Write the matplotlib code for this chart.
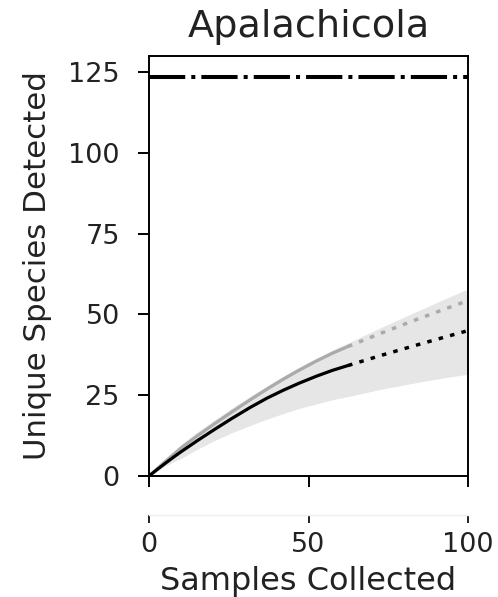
import matplotlib
matplotlib.use("Agg")
import matplotlib.pyplot as plt

# ---- data ----
title = "Apalachicola"
xlabel = "Samples Collected"
ylabel = "Unique Species Detected"
asymptote = 123.4

x_obs = [0, 2.5, 5, 7.5, 10.2, 15.4, 20.6, 25.8, 31.6, 37, 42, 47, 52.5, 57.5, 62.4]
black_obs = [0, 1.95, 3.85, 5.7, 7.6, 11.1, 14.45, 17.7, 21.15, 24.1, 26.5, 28.7, 30.9, 32.7, 34.2]
gray_obs = [0, 2.2, 4.4, 6.5, 8.8, 12.6, 16.2, 19.7, 23.5, 26.9, 29.9, 32.7, 35.6, 38.0, 40.1]

x_ext = [62.4, 73.0, 83.8, 92.0, 100]
black_ext = [34.2, 37.4, 40.5, 42.8, 45.0]
gray_ext = [40.1, 44.3, 48.4, 51.4, 54.3]

x_band = [0, 2.5, 5, 7.5, 10.2, 15.4, 20.6, 25.8, 31.6, 37, 42, 47, 52.5, 57.5,
          62.9, 73.0, 83.8, 92.0, 100]
band_low = [0, 1.6, 3.0, 4.3, 5.5, 8.4, 11.0, 13.3, 15.6, 17.6, 19.3, 20.9, 22.3, 23.6,
            24.7, 26.9, 28.9, 30.3, 31.5]
band_high = [0, 2.5, 5.0, 7.4, 9.9, 13.8, 17.4, 20.9, 24.6, 27.9, 30.9, 33.7, 36.5, 39.0,
             41.4, 46.1, 50.9, 54.5, 57.9]

xticks = [0, 50, 100]
yticks = [0, 25, 50, 75, 100, 125]

# ---- figure ----
fig = plt.figure(figsize=(4.98, 5.97), dpi=100)
ax = fig.add_axes([0.2992, 0.2027, 0.6406, 0.7035])
txt = "#222222"

ax.fill_between(x_band, band_low, band_high, color="#e6e6e6", lw=0, zorder=1)
ax.plot(x_obs, gray_obs, color="#aaaaaa", lw=2.3, solid_capstyle="round", zorder=2)
ax.plot(x_ext, gray_ext, color="#aaaaaa", lw=2.5, dashes=(1.3, 2.1), zorder=2)
ax.plot(x_obs, black_obs, color="black", lw=2.3, solid_capstyle="round", zorder=3)
ax.plot(x_ext, black_ext, color="black", lw=2.5, dashes=(1.3, 2.1), zorder=3)
ax.axhline(asymptote, color="black", lw=2.9, dashes=(9, 1.5, 1, 1.5), zorder=3)

ax.set_xlim(0, 100)
ax.set_ylim(0, 130)
ax.set_xticks(xticks)
ax.set_xticklabels([])
ax.set_yticks(yticks)
ax.tick_params(axis="both", length=8, width=1.4, color="black", labelsize=19.5, labelcolor=txt)
ax.tick_params(axis="y", pad=13)
for s in ax.spines.values():
    s.set_linewidth(1.4)
ax.set_ylabel(ylabel, fontsize=22.2, color=txt, labelpad=12)
ax.set_title(title, fontsize=27.5, color=txt, pad=13.5)

# secondary thin axis carrying x labels
ax2 = fig.add_axes([0.2992, 0.1374, 0.6406, 0.0001])
ax2.set_xlim(0, 100)
ax2.set_xticks(xticks)
ax2.set_yticks([])
for k in ["top", "left", "right"]:
    ax2.spines[k].set_visible(False)
ax2.spines["bottom"].set_color("#eeeeee")
ax2.spines["bottom"].set_linewidth(1.0)
ax2.patch.set_alpha(0)
ax2.tick_params(axis="x", length=6, width=1.4, color="#222222", labelsize=19.5, labelcolor=txt, pad=6)
ax2.set_xlabel(xlabel, fontsize=23, color=txt, labelpad=6)

fig.savefig("out.png", dpi=100)
